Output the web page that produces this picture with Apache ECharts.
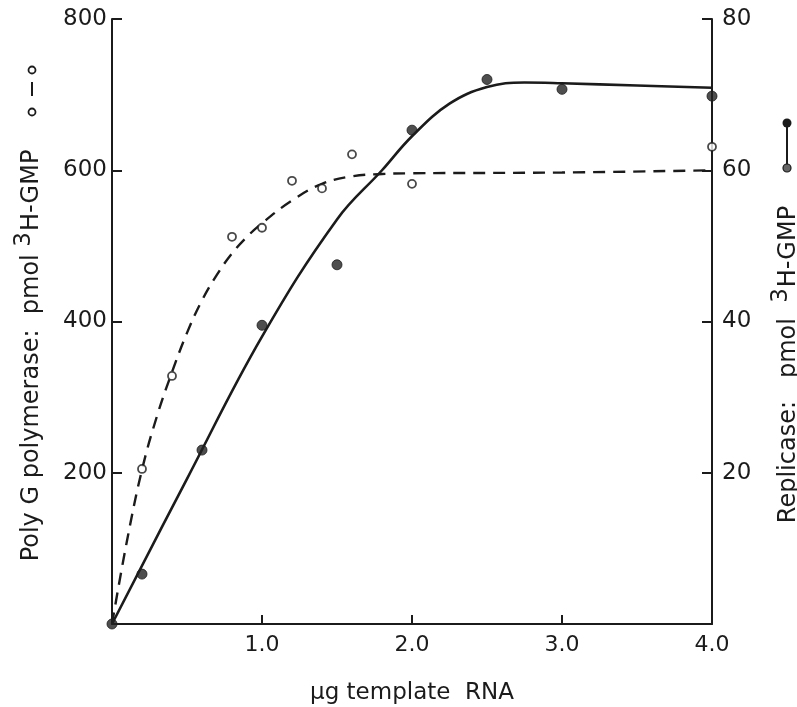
<!DOCTYPE html>
<html>
<head>
<meta charset="utf-8">
<script src="https://cdn.jsdelivr.net/npm/echarts@6/dist/echarts.min.js"></script>
<style>html,body{margin:0;padding:0;background:#fff}#c{width:797px;height:707px}</style>
</head>
<body>
<div id="c"></div>
<script>
// ---- data ----
// x-axis: µg template RNA
const xTicks = [0, 1.0, 2.0, 3.0, 4.0];
const leftTicks = [0, 200, 400, 600, 800];
const rightTicks = [0, 20, 40, 60, 80];

// Poly G polymerase (open circles, left axis, pmol)
const polyGX = [0.2, 0.4, 0.8, 1.0, 1.2, 1.4, 1.6, 2.0, 4.0];
const polyGY = [205, 328, 512, 524, 586, 576, 621, 582, 631];
// dashed fitted curve (left axis)
const polyGCurveX = [0, 0.1, 0.2, 0.3, 0.4, 0.5, 0.6, 0.7, 0.8, 0.9, 1.0, 1.2, 1.4, 1.6, 1.8, 2.0, 3.0, 4.0];
const polyGCurveY = [0, 110, 204, 275, 333, 385, 428, 462, 490, 512, 530, 560, 582, 592, 595, 596, 597, 600];

// Replicase (filled circles, right axis, pmol)
const repX = [0, 0.2, 0.6, 1.0, 1.5, 2.0, 2.5, 3.0, 4.0];
const repY = [0, 6.6, 23, 39.5, 47.5, 65.3, 72, 70.7, 69.8];
// solid fitted curve (right axis)
const repCurveX = [0, 0.5, 1.0, 1.5, 1.8, 2.0, 2.25, 2.5, 2.75, 3.0, 3.5, 4.0];
const repCurveY = [0, 19.2, 38, 53.5, 60, 64.5, 68.8, 71, 71.6, 71.5, 71.2, 70.9];

const zip = (a, b) => a.map((v, i) => [v, b[i]]);
const INK = '#1b1b1b';
const FONT = 'DejaVu Sans';

const chart = echarts.init(document.getElementById('c'), null, {renderer: 'canvas'});
const richL = {
  t: {fontSize: 24, fontFamily: FONT, color: INK},
  s: {fontSize: 23, fontFamily: FONT, color: INK, padding: [0, 1, 14, 0]},
  g: {width: 68}
};
const richR = {
  t: {fontSize: 24, fontFamily: FONT, color: INK},
  s: {fontSize: 23, fontFamily: FONT, color: INK, padding: [0, 1, 14, 0]},
  g: {width: 86}
};
chart.setOption({
  animation: false,
  backgroundColor: '#fff',
  grid: {left: 112, right: 85, top: 19, bottom: 83, containLabel: false, outerBoundsMode: 'none'},
  xAxis: {
    type: 'value', min: xTicks[0], max: xTicks[xTicks.length - 1], interval: 1,
    axisLine: {lineStyle: {color: INK, width: 2}},
    axisTick: {inside: true, length: 9, lineStyle: {color: INK, width: 2}},
    splitLine: {show: false},
    axisLabel: {showMinLabel: false, margin: 10, fontSize: 22, fontFamily: FONT, color: INK,
      formatter: v => v.toFixed(1)},
    name: 'μg template  RNA', nameLocation: 'middle', nameGap: 58,
    nameTextStyle: {fontSize: 23, fontFamily: FONT, color: INK}
  },
  yAxis: [{
    type: 'value', position: 'left', min: leftTicks[0], max: leftTicks[leftTicks.length - 1], interval: 200,
    axisLine: {show: true, lineStyle: {color: INK, width: 2}},
    axisTick: {show: true, inside: true, length: 10, lineStyle: {color: INK, width: 2}},
    splitLine: {show: false},
    axisLabel: {showMinLabel: false, margin: 5, fontSize: 23, fontFamily: FONT, color: INK},
    name: '{t|Poly G polymerase:  pmol }{s|3}{t|H-GMP}{g| }',
    nameLocation: 'middle', nameRotate: 90, nameGap: 62,
    nameTextStyle: {rich: richL}
  }, {
    type: 'value', position: 'right', min: rightTicks[0], max: rightTicks[rightTicks.length - 1], interval: 20,
    axisLine: {show: true, lineStyle: {color: INK, width: 2}},
    axisTick: {show: true, inside: true, length: 10, lineStyle: {color: INK, width: 2}},
    splitLine: {show: false},
    axisLabel: {showMinLabel: false, margin: 10, fontSize: 23, fontFamily: FONT, color: INK},
    name: '{t|Replicase:   pmol  }{s|3}{t|H-GMP}{g| }',
    nameLocation: 'middle', nameRotate: 90, nameGap: 58,
    nameTextStyle: {rich: richR}
  }],
  series: [{
    type: 'line', yAxisIndex: 0, data: zip(polyGCurveX, polyGCurveY),
    smooth: 0.4, showSymbol: false, silent: true,
    lineStyle: {color: INK, width: 2.4, type: [12, 8]}, z: 2
  }, {
    type: 'line', yAxisIndex: 1, data: zip(repCurveX, repCurveY),
    smooth: 0.4, showSymbol: false, silent: true,
    lineStyle: {color: INK, width: 2.6}, z: 2
  }, {
    type: 'scatter', yAxisIndex: 0, data: zip(polyGX, polyGY),
    symbol: 'circle', symbolSize: 8,
    itemStyle: {color: '#fff', borderColor: INK, borderWidth: 1.8}, z: 3
  }, {
    type: 'scatter', yAxisIndex: 1, data: zip(repX, repY),
    symbol: 'circle', symbolSize: 10,
    itemStyle: {color: '#222', borderColor: INK, borderWidth: 1}, z: 4
  }],
  graphic: [
    // legend marks next to the axis titles
    {type: 'circle', shape: {cx: 32, cy: 70, r: 3.5}, style: {fill: '#fff', stroke: INK, lineWidth: 1.8}},
    {type: 'line', shape: {x1: 32, y1: 82, x2: 32, y2: 96}, style: {stroke: INK, lineWidth: 2}},
    {type: 'circle', shape: {cx: 32, cy: 112, r: 3.5}, style: {fill: '#fff', stroke: INK, lineWidth: 1.8}},
    {type: 'line', shape: {x1: 787, y1: 123, x2: 787, y2: 168}, style: {stroke: INK, lineWidth: 2}},
    {type: 'circle', shape: {cx: 787, cy: 123, r: 4.5}, style: {fill: INK}},
    {type: 'circle', shape: {cx: 787, cy: 168, r: 4}, style: {fill: '#666', stroke: INK, lineWidth: 1.2}}
  ]
});
</script>
</body>
</html>
